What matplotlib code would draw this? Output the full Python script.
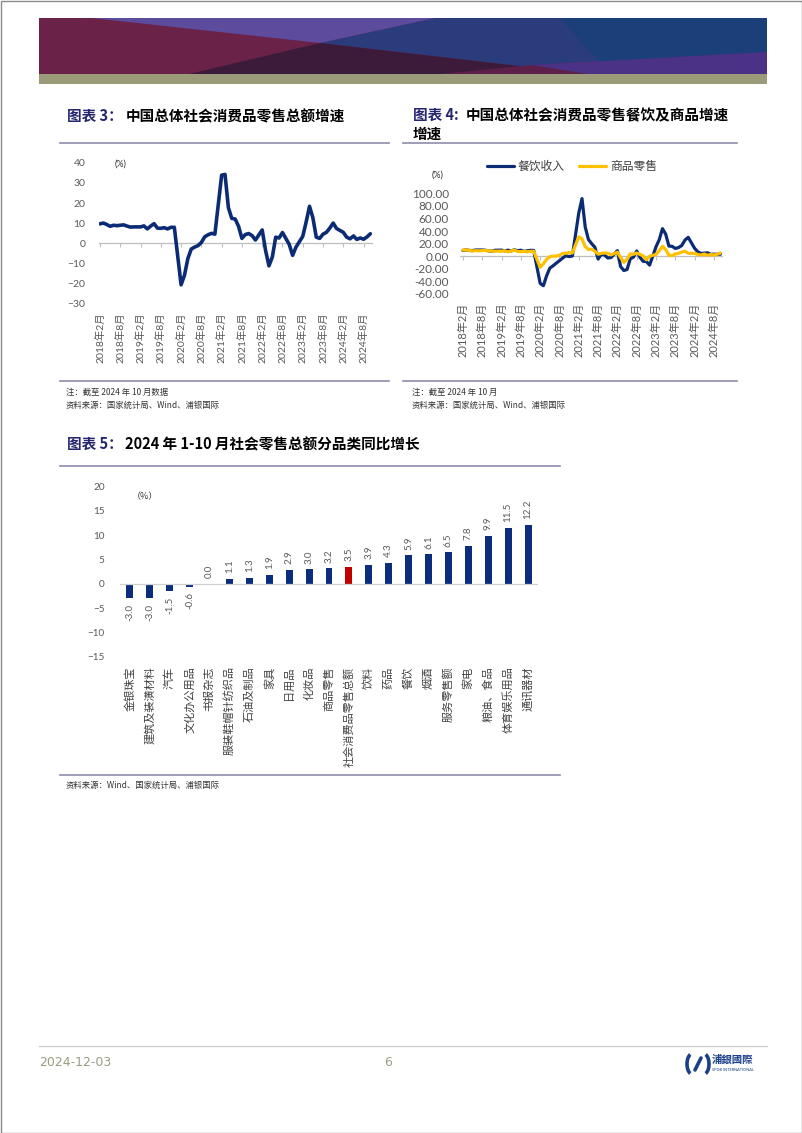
import matplotlib

matplotlib.use("Agg")
import matplotlib.pyplot as plt
from matplotlib.patches import Polygon, Rectangle, Arc

plt.rcParams["font.family"] = ["Lato", "Noto Sans CJK SC"]

CJK = ["Noto Sans CJK SC", "DejaVu Sans"]
NAVY = "#0B2C75"
GOLD = "#FFC000"
GRAY = "#595959"

# ---- chart 3 / 4 data: monthly YoY (%), Feb 2018 - Oct 2024, January merged into Feb ----
years = [2018, 2019, 2020, 2021, 2022, 2023, 2024]
total_yoy = [
    9.7, 10.1, 9.4, 8.5, 9.0, 8.8, 9.0, 9.2, 8.6, 8.1, 8.2,
    8.2, 8.7, 7.2, 8.6, 9.8, 7.6, 7.5, 7.8, 7.2, 8.0, 8.0,
    -20.5, -15.8, -7.5, -2.8, -1.8, -1.1, 0.5, 3.3, 4.3, 5.0, 4.6,
    33.8, 34.2, 17.7, 12.4, 12.1, 8.5, 2.5, 4.4, 4.9, 3.9, 1.7,
    6.7, -3.5, -11.1, -6.7, 3.1, 2.7, 5.4, 2.5, -0.5, -5.9, -1.8,
    3.5, 10.6, 18.4, 12.7, 3.1, 2.5, 4.6, 5.5, 7.6, 10.1, 7.4,
    5.5, 3.1, 2.3, 3.7, 2.0, 2.7, 2.1, 3.2, 4.8,
]
catering_yoy = [
    9.1, 10.1, 9.2, 9.0, 9.9, 9.9, 9.9, 9.5, 8.6, 7.9, 9.5,
    9.7, 8.6, 9.6, 8.5, 10.2, 8.8, 9.5, 7.8, 8.6, 9.4, 9.3,
    -43.1, -46.8, -31.1, -18.9, -15.2, -11.0, -7.0, -2.9, 0.8, -0.6, 0.4,
    68.9, 91.6, 46.4, 26.6, 20.0, 14.3, -4.5, 3.1, 2.0, -2.7, -2.2,
    8.9, -16.4, -22.7, -21.1, -4.0, -1.5, 8.4, -1.7, -8.1, -8.4, -14.1,
    15.1, 26.3, 43.8, 35.1, 16.1, 15.8, 12.4, 13.8, 17.1, 25.8, 30.0,
    12.5, 6.9, 4.4, 5.0, 5.4, 3.0, 3.3, 3.1, 3.2,
]
goods_yoy = [
    9.7, 10.1, 9.4, 8.4, 8.9, 8.6, 8.9, 9.1, 8.6, 8.1, 8.0,
    8.1, 8.7, 6.9, 8.6, 9.8, 7.5, 7.3, 7.8, 7.1, 7.8, 7.9,
    -17.6, -12.0, -5.1, -0.8, 0.2, 0.2, 1.5, 4.4, 4.7, 5.8, 5.2,
    30.7, 27.8, 15.1, 10.9, 11.2, 7.9, 3.3, 4.5, 5.2, 4.8, 2.2,
    6.5, -2.1, -9.7, -5.0, 3.9, 3.2, 5.1, 3.0, 0.5, -5.6, 0.1,
    2.9, 8.8, 15.9, 10.5, 1.7, 1.0, 3.7, 4.6, 6.5, 8.0, 4.8,
    4.6, 2.7, 2.0, 3.6, 1.6, 2.7, 2.0, 3.2, 5.0,
]

# ---- chart 5 data ----
categories = [
    "金银珠宝", "建筑及装潢材料", "汽车", "文化办公用品", "书报杂志", "服装鞋帽针纺织品",
    "石油及制品", "家具", "日用品", "化妆品", "商品零售", "社会消费品零售总额", "饮料",
    "药品", "餐饮", "烟酒", "服务零售额", "家电", "粮油、食品", "体育娱乐用品", "通讯器材",
]
category_yoy = [-3.0, -3.0, -1.5, -0.6, 0.0, 1.1, 1.3, 1.9, 2.9, 3.0, 3.2, 3.5, 3.9,
                4.3, 5.9, 6.1, 6.5, 7.8, 9.9, 11.5, 12.2]
highlight = "社会消费品零售总额"

# month positions (months since 2018-02), January skipped
month_pos = []
for y in years:
    last = 10 if y == 2024 else 12
    for m in range(2, last + 1):
        month_pos.append((y - 2018) * 12 + (m - 2))
tick_pos = list(range(0, 79, 6))
tick_lab = [f"{2018 + k // 2}年{2 if k % 2 == 0 else 8}月" for k in range(len(tick_pos))]

W, H = 802, 1133
fig = plt.figure(figsize=(W / 100, H / 100), dpi=100)

# ---------------- page decoration ----------------
page = fig.add_axes([0, 0, 1, 1])
page.set_xlim(0, W)
page.set_ylim(H, 0)
page.axis("off")

page.add_patch(Rectangle((39, 18), 728, 56, color="#6b2248", lw=0))
page.add_patch(Polygon([(435, 18), (767, 18), (767, 52), (532, 65), (588, 74), (320, 43)],
                       color="#2a3c7b", lw=0))
page.add_patch(Polygon([(560, 18), (767, 18), (767, 52), (600, 62)], color="#1a3f79", lw=0))
page.add_patch(Polygon([(92, 18), (435, 18), (320, 43)], color="#5d4b9d", lw=0))
page.add_patch(Polygon([(189, 74), (320, 43), (588, 74)], color="#3c1b3a", lw=0))
page.add_patch(Polygon([(440, 74), (532, 65), (588, 74)], color="#5c1f4a", lw=0))
page.add_patch(Polygon([(588, 74), (532, 65), (767, 52), (767, 74)], color="#4b3286", lw=0))
page.add_patch(Rectangle((39, 74), 728, 10, color="#9b9a79", lw=0))
page.add_patch(Rectangle((0.5, 0.5), W - 1, H - 1, fill=False, ec="#8a8a8a", lw=1))


def title(x, y, head, rest, rest_x):
    page.text(x, y, head, family=CJK, fontsize=10.5, weight="bold", color="#26266e", va="center")
    page.text(rest_x, y, rest, family=CJK, fontsize=10.5, weight="bold", color="black", va="center")


title(67, 116, "图表 3：", "中国总体社会消费品零售总额增速", 126)
title(413, 115, "图表 4:", "中国总体社会消费品零售餐饮及商品增速", 466)
page.text(413, 134, "增速", family=CJK, fontsize=10.5, weight="bold", color="black", va="center")
title(67, 444, "图表 5：", "2024 年 1-10 月社会零售总额分品类同比增长", 125)

rule = "#8c8cac"
page.plot([60, 389], [143, 143], color=rule, lw=1.2)
page.plot([403, 737], [143, 143], color=rule, lw=1.2)
page.plot([60, 389], [381, 381], color=rule, lw=1.2)
page.plot([403, 737], [381, 381], color=rule, lw=1.2)
page.plot([60, 560], [466, 466], color=rule, lw=1.2)
page.plot([60, 560], [775, 775], color=rule, lw=1.2)

note_kw = dict(family=CJK, fontsize=6, color="#333333", va="center")
page.text(66, 392, "注：截至 2024 年 10 月数据", **note_kw)
page.text(66, 405, "资料来源：国家统计局、Wind、浦银国际", **note_kw)
page.text(412, 392, "注：截至 2024 年 10 月", **note_kw)
page.text(412, 405, "资料来源：国家统计局、Wind、浦银国际", **note_kw)
page.text(66, 785, "资料来源：Wind、国家统计局、浦银国际", **note_kw)

# footer
page.plot([39, 767], [1046, 1046], color="#d0d0d0", lw=1)
page.text(39, 1062, "2024-12-03", family="Liberation Sans Narrow", fontsize=9, color="#9b9b82", va="center")
page.text(384, 1062, "6", family="Liberation Sans Narrow", fontsize=9, color="#9b9b82", va="center")
page.add_patch(Arc((692, 1064), 10, 20, theta1=100, theta2=260, color="#1c3f8a", lw=2.6))
page.add_patch(Arc((704, 1064), 10, 20, theta1=-80, theta2=80, color="#1c3f8a", lw=2.6))
page.plot([695, 701], [1070, 1058], color="#1c3f8a", lw=2.6, solid_capstyle="round")
page.text(712, 1060, "浦銀國際", family=["Noto Sans CJK TC"], fontsize=7.5, weight="bold",
          color="#1c3f8a", va="center")
page.text(712, 1070, "SPDB INTERNATIONAL", fontsize=2.8, color="#1c3f8a", va="center")


def style_line_axes(ax, zero_frac, xlabel_size, ylabel_size, ypad):
    for s in ax.spines.values():
        s.set_visible(False)
    ax.set_xticks(tick_pos)
    ax.set_xticklabels(tick_lab, rotation=90, fontsize=xlabel_size, color=GRAY)
    ax.tick_params(axis="x", length=0, pad=6)
    ax.tick_params(axis="y", length=0, pad=ypad, labelsize=ylabel_size, labelcolor=GRAY)
    sec = ax.secondary_xaxis(zero_frac)
    sec.set_xticks(tick_pos)
    sec.set_xticklabels([])
    sec.tick_params(length=3, color="#bfbfbf", direction="out")
    sec.spines["bottom"].set_color("#bfbfbf")
    sec.spines["bottom"].set_linewidth(0.9)
    ax.patch.set_alpha(0)


# ---------------- chart 3 ----------------
ax3 = fig.add_axes([99.3 / W, 1 - 304 / H, 272.4 / W, 141.3 / H])
ax3.plot(month_pos, total_yoy, color=NAVY, lw=2.6, solid_joinstyle="round", solid_capstyle="round")
ax3.set_xlim(-0.2, 80.4)
ax3.set_ylim(-30, 40)
ax3.set_yticks(range(-30, 41, 10))
style_line_axes(ax3, 30 / 70, 7.5, 7.5, 10)
page.text(115, 164, "(%)", fontsize=6.5, color="#333333", va="center")

# ---------------- chart 4 ----------------
ax4 = fig.add_axes([460 / W, 1 - 294 / H, 261.7 / W, 100.7 / H])
ax4.plot(month_pos, catering_yoy, color=NAVY, lw=2.3, label="餐饮收入",
         solid_joinstyle="round", solid_capstyle="round")
ax4.plot(month_pos, goods_yoy, color=GOLD, lw=2.3, label="商品零售",
         solid_joinstyle="round", solid_capstyle="round")
ax4.set_xlim(-0.9, 80.4)
ax4.set_ylim(-60, 100)
ax4.set_yticks(range(-60, 101, 20))
ax4.set_yticklabels([f"{v:.2f}" for v in range(-60, 101, 20)])
style_line_axes(ax4, 60 / 160, 8, 8.5, 8)
ax4.legend(loc="center", bbox_to_anchor=(572 / W, 1 - 166.5 / H), bbox_transform=fig.transFigure,
           ncol=2, frameon=False, prop={"family": CJK, "size": 8.5}, handlelength=2.3,
           handletextpad=0.3, columnspacing=1.2, labelcolor="#404040")
page.text(432, 175, "(%)", fontsize=6.5, color="#333333", va="center")

# ---------------- chart 5 ----------------
ax5 = fig.add_axes([120 / W, 1 - 656.7 / H, 418 / W, 170 / H])
xs = list(range(len(categories)))
colors = ["#C00000" if c == highlight else "#0A2D7E" for c in categories]
ax5.bar(xs, category_yoy, width=0.35, color=colors)
for x, v in zip(xs, category_yoy):
    ax5.annotate(f"{v:.1f}", (x, v), xytext=(0, 4 if v >= 0 else -4), textcoords="offset points",
                 rotation=90, ha="center", va="bottom" if v >= 0 else "top", fontsize=7, color=GRAY)
ax5.set_xlim(-0.5, len(categories) - 0.5)
ax5.set_ylim(-15, 20)
ax5.set_yticks(range(-15, 21, 5))
ax5.axhline(0, color="#d0d0d0", lw=0.9)
for s in ax5.spines.values():
    s.set_visible(False)
ax5.set_xticks(xs)
ax5.set_xticklabels(categories, rotation=90, family=CJK, fontsize=8, color="#404040")
ax5.tick_params(axis="x", length=0, pad=7)
ax5.tick_params(axis="y", length=0, pad=11, labelsize=7.2, labelcolor=GRAY)
ax5.patch.set_alpha(0)
page.text(132, 497, "（%）", family=CJK, fontsize=6.5, color="#333333", va="center")

fig.savefig("out.png", dpi=100)
